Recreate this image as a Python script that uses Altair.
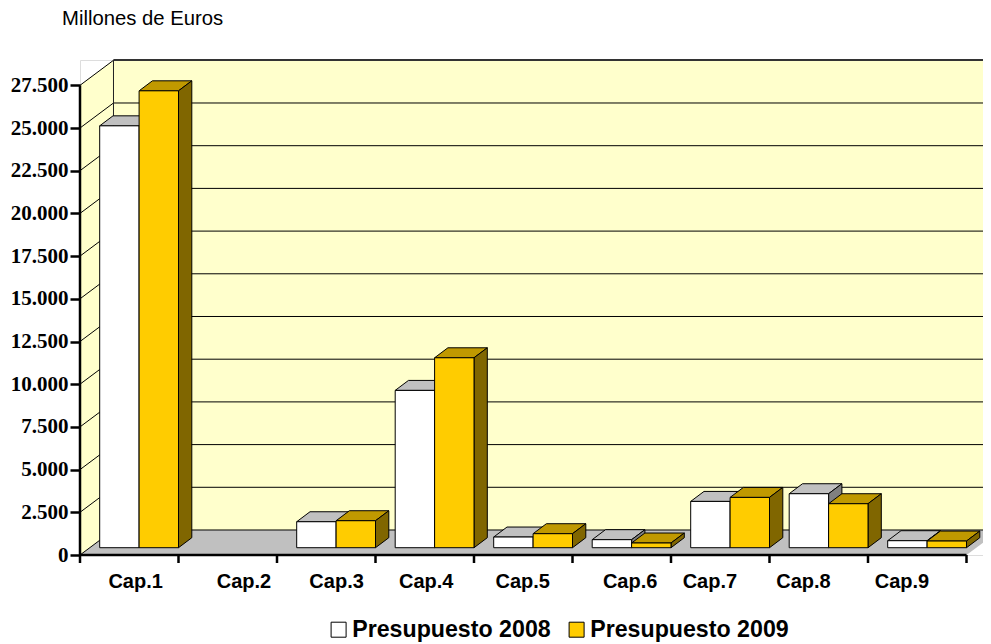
import json
import altair as alt
import pandas as pd

# ---------- chart values ----------
categories = ["Cap.1", "Cap.2", "Cap.3", "Cap.4", "Cap.5", "Cap.6", "Cap.7", "Cap.8", "Cap.9"]
presupuesto_2008 = [24700, None, 1520, 9210, 625, 470, 2710, 3160, 410]
presupuesto_2009 = [26750, None, 1580, 11120, 820, 275, 2945, 2575, 390]
y_ticks = [0, 2500, 5000, 7500, 10000, 12500, 15000, 17500, 20000, 22500, 25000, 27500]
label_centers = [0.56, 1.66, 2.60, 3.51, 4.49, 5.58, 6.39, 7.34, 8.34]
series_names = ["Presupuesto 2008", "Presupuesto 2009"]

# ---------- projection of the pseudo-3D scene, in data units ----------
WIDTH, HEIGHT = 903, 495
X_MAX, Y_MAX = WIDTH / 98.5, HEIGHT / (42.7 / 2500)
WALL_DX, WALL_DY = 0.34, 1464       # depth of the chart box
BAR_DX, BAR_DY = 0.135, 585         # depth of one bar
BASE = 427                          # bars stand this far up the floor
BAR_START, BAR_W = 0.2, 0.4

SANS, SERIF = "Liberation Sans", "Liberation Serif"
WALL, FLOOR = "#FFFFCC", "#C0C0C0"
FRONT = ["#FFFFFF", "#FFCC00"]
TOP = ["#C0C0C0", "#C09900"]
SIDE = ["#808080", "#806600"]

xs = alt.Scale(domain=[0, X_MAX], nice=False, zero=False)
ys = alt.Scale(domain=[0, Y_MAX], nice=False, zero=False)

cat_expr = json.dumps(categories) + f"[round(datum.index*{len(categories) - 1})]"
x_axis = alt.Axis(
    values=label_centers,
    labelExpr=cat_expr,
    title=None,
    grid=False,
    domain=False,
    ticks=False,
    labelFont=SANS,
    labelFontSize=20,
    labelFontWeight="bold",
    labelColor="#000000",
    labelPadding=16,
    labelFlush=False,
    labelOverlap=False,
)
y_axis = alt.Axis(
    values=y_ticks,
    labelExpr="replace(format(datum.value, ','), ',', '.')",
    title=None,
    grid=False,
    domain=False,
    tickSize=10,
    tickWidth=2.5,
    tickColor="#000000",
    labelFont=SERIF,
    labelFontSize=21,
    labelFontWeight="bold",
    labelColor="#000000",
    labelPadding=2,
    labelOverlap=False,
)


def X(f="x"):
    return alt.X(f"{f}:Q", scale=xs, axis=x_axis)


def Y(f="y"):
    return alt.Y(f"{f}:Q", scale=ys, axis=y_axis)


layers = []

# back wall
layers.append(
    alt.Chart(pd.DataFrame({"x": [WALL_DX], "x2": [X_MAX], "y": [WALL_DY], "y2": [Y_MAX]}))
    .mark_rect(fill=WALL)
    .encode(x=X(), x2="x2:Q", y=Y(), y2="y2:Q")
)
# left wall
layers.append(
    alt.Chart(pd.DataFrame({"x": [0, WALL_DX], "y": [0, WALL_DY], "y2": [y_ticks[-1], y_ticks[-1] + WALL_DY]}))
    .mark_area(fill=WALL)
    .encode(x=X(), y=Y(), y2="y2:Q")
)
# floor
layers.append(
    alt.Chart(pd.DataFrame({"y": [0, WALL_DY], "x": [0, WALL_DX], "x2": [9, 9 + WALL_DX]}))
    .mark_area(orient="horizontal", fill=FLOOR, clip=True)
    .encode(y=Y(), x=X(), x2="x2:Q")
)

# gridlines on the back wall and their diagonals on the left wall
grid = pd.DataFrame({"x": WALL_DX, "x2": X_MAX, "y": [t + WALL_DY for t in y_ticks]})
layers.append(
    alt.Chart(grid).mark_rule(color="#000000", strokeWidth=1).encode(x=X(), x2="x2:Q", y=Y())
)
diag = pd.DataFrame(
    [{"k": t, "x": x, "y": t + d} for t in y_ticks for x, d in ((0, 0), (WALL_DX, WALL_DY))]
)
layers.append(
    alt.Chart(diag).mark_line(color="#000000", strokeWidth=1).encode(x=X(), y=Y(), detail="k:N")
)
# wall outline: vertical back edge and heavy top edge
layers.append(
    alt.Chart(pd.DataFrame({"x": [WALL_DX], "y": [WALL_DY], "y2": [Y_MAX]}))
    .mark_rule(color="#222222", strokeWidth=1)
    .encode(x=X(), y=Y(), y2="y2:Q")
)
layers.append(
    alt.Chart(pd.DataFrame({"x": [WALL_DX], "x2": [X_MAX], "y": [Y_MAX]}))
    .mark_rule(color="#333333", strokeWidth=2)
    .encode(x=X(), x2="x2:Q", y=Y())
)

# bars
colour = alt.Color(
    "series:N",
    scale=alt.Scale(domain=series_names, range=FRONT),
    legend=alt.Legend(
        title=None,
        orient="none",
        legendX=247,
        legendY=558,
        direction="horizontal",
        columns=2,
        symbolType="square",
        symbolSize=225,
        symbolStrokeWidth=1,
        symbolOffset=0,
        labelFont=SANS,
        labelFontSize=23.2,
        labelFontWeight="bold",
        labelColor="#000000",
        labelLimit=300,
        labelOffset=2,
        columnPadding=14,
        padding=0,
    ),
)

for s, (name, values, offset) in enumerate(
    zip(series_names, (presupuesto_2008, presupuesto_2009), (0, BAR_W))
):
    fronts, tops, sides = [], [], []
    for i, v in enumerate(values):
        if v is None:
            continue
        x0 = i + BAR_START + offset
        x1 = x0 + BAR_W
        t = BASE + v
        fronts.append({"series": name, "x": x0, "x2": x1, "y": t, "y2": BASE})
        tops += [
            {"k": i, "y": t, "x": x0, "x2": x1},
            {"k": i, "y": t + BAR_DY, "x": x0 + BAR_DX, "x2": x1 + BAR_DX},
        ]
        sides += [
            {"k": i, "x": x1, "y": t, "y2": BASE},
            {"k": i, "x": x1 + BAR_DX, "y": t + BAR_DY, "y2": BASE + BAR_DY},
        ]
    layers.append(
        alt.Chart(pd.DataFrame(tops))
        .mark_area(orient="horizontal", fill=TOP[s], stroke="#000000", strokeWidth=1)
        .encode(y=Y(), x=X(), x2="x2:Q", detail="k:N")
    )
    layers.append(
        alt.Chart(pd.DataFrame(sides))
        .mark_area(fill=SIDE[s], stroke="#000000", strokeWidth=1)
        .encode(x=X(), y=Y(), y2="y2:Q", detail="k:N")
    )
    layers.append(
        alt.Chart(pd.DataFrame(fronts))
        .mark_bar(stroke="#000000", strokeWidth=1)
        .encode(x=X(), x2="x2:Q", y=Y(), y2="y2:Q", color=colour)
    )

# axis lines and x ticks
layers.append(
    alt.Chart(pd.DataFrame({"x": [0], "y": [0], "y2": [y_ticks[-1]]}))
    .mark_rule(color="#000000", strokeWidth=2.5)
    .encode(x=X(), y=Y(), y2="y2:Q")
)
layers.append(
    alt.Chart(pd.DataFrame({"x": [0], "x2": [9], "y": [0]}))
    .mark_rule(color="#000000", strokeWidth=2.5)
    .encode(x=X(), x2="x2:Q", y=Y())
)
layers.append(
    alt.Chart(pd.DataFrame({"x": list(range(10)), "y": 0, "y2": -470}))
    .mark_rule(color="#000000", strokeWidth=2.5, clip=False)
    .encode(x=X(), y=Y(), y2="y2:Q")
)

chart = (
    alt.layer(*layers)
    .properties(
        width=WIDTH,
        height=HEIGHT,
        autosize=alt.AutoSizeParams(type="none"),
        padding={"left": 72, "top": 52, "right": 0, "bottom": 88},
        title=alt.TitleParams(
            "Millones de Euros",
            anchor="start",
            frame="group",
            dx=-18,
            offset=29,
            font=SANS,
            fontSize=20.3,
            fontWeight="normal",
            color="#000000",
        ),
    )
    .configure_view(stroke=None)
    .configure(background="#FFFFFF")
)

chart.save("out.html", embed_options={"renderer": "svg", "actions": False})
